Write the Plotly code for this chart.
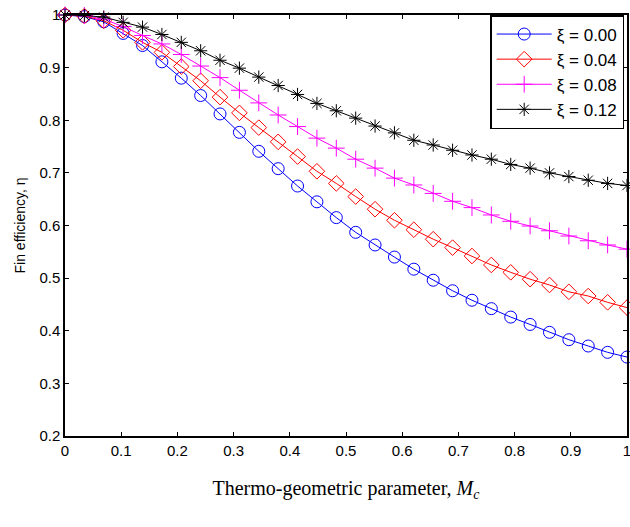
import plotly.graph_objects as go

x_vals = [i / 29 for i in range(30)]  # 30 equally spaced sample points on [0, 1]

eta_000 = [1.000, 0.997, 0.987, 0.965, 0.942, 0.911, 0.880, 0.847, 0.812, 0.777,
           0.741, 0.708, 0.675, 0.645, 0.615, 0.587, 0.563, 0.540, 0.517, 0.496,
           0.476, 0.458, 0.442, 0.426, 0.412, 0.397, 0.383, 0.371, 0.359, 0.350]
eta_004 = [1.000, 0.998, 0.989, 0.971, 0.948, 0.929, 0.902, 0.875, 0.844, 0.814,
           0.786, 0.759, 0.731, 0.703, 0.680, 0.655, 0.631, 0.610, 0.592, 0.574,
           0.558, 0.542, 0.525, 0.511, 0.498, 0.487, 0.474, 0.466, 0.454, 0.444]
eta_008 = [1.000, 0.999, 0.992, 0.978, 0.961, 0.945, 0.925, 0.903, 0.881, 0.857,
           0.833, 0.810, 0.788, 0.766, 0.747, 0.726, 0.709, 0.690, 0.677, 0.661,
           0.646, 0.634, 0.620, 0.608, 0.599, 0.590, 0.580, 0.571, 0.563, 0.555]
eta_012 = [1.000, 0.999, 0.996, 0.986, 0.977, 0.963, 0.948, 0.932, 0.914, 0.899,
           0.882, 0.866, 0.849, 0.832, 0.818, 0.804, 0.789, 0.776, 0.762, 0.753,
           0.743, 0.734, 0.726, 0.716, 0.709, 0.700, 0.693, 0.686, 0.680, 0.676]

series_names = ["ξ = 0.00", "ξ = 0.04", "ξ = 0.08", "ξ = 0.12"]
series_vals = [eta_000, eta_004, eta_008, eta_012]
colors = ["#0000ff", "#ff0000", "#ff00ff", "#000000"]
symbols = ["circle-open", "diamond-open", "cross-thin-open", "asterisk-open"]
sizes = [12, 12, 12, 11]

x_ticks = [0, 0.1, 0.2, 0.3, 0.4, 0.5, 0.6, 0.7, 0.8, 0.9, 1]
x_ticklabels = ["0", "0.1", "0.2", "0.3", "0.4", "0.5", "0.6", "0.7", "0.8", "0.9", "1"]
y_ticks = [0.2, 0.3, 0.4, 0.5, 0.6, 0.7, 0.8, 0.9, 1.0]
y_ticklabels = ["0.2", "0.3", "0.4", "0.5", "0.6", "0.7", "0.8", "0.9", "1"]

fig = go.Figure()
for name, vals, c, s, sz in zip(series_names, series_vals, colors, symbols, sizes):
    fig.add_trace(go.Scatter(
        x=x_vals, y=vals, name=name, mode="lines+markers",
        line=dict(color=c, width=1),
        marker=dict(symbol=s, size=sz, color=c, line=dict(color=c, width=1)),
        cliponaxis=False,
    ))

axis_common = dict(
    showgrid=False, zeroline=False, showline=True, linecolor="black", linewidth=1.5,
    mirror="ticks", ticks="inside", ticklen=4, tickcolor="black", tickwidth=1,
    tickfont=dict(family="Arial, Liberation Sans", size=15, color="black"),
    automargin=False, ticklabeloverflow="allow",
)

fig.update_layout(
    width=630, height=527,
    margin=dict(l=65, r=3, t=15, b=91),
    paper_bgcolor="white", plot_bgcolor="white",
    xaxis=dict(range=[0, 1], tickvals=x_ticks, ticktext=x_ticklabels,
               title=dict(text="Thermo-geometric parameter, <i>M<sub>c</sub></i>",
                          font=dict(family="Times New Roman, Liberation Serif", size=20, color="black"),
                          standoff=23),
               **axis_common),
    yaxis=dict(range=[0.2, 1], tickvals=y_ticks, ticktext=y_ticklabels,
               title=dict(text="Fin efficiency, η",
                          font=dict(family="Arial, Liberation Sans", size=14, color="black"),
                          standoff=10),
               **axis_common),
    legend=dict(x=0.995, y=1.0, xanchor="right", yanchor="top",
                bgcolor="white", bordercolor="black", borderwidth=1.5,
                font=dict(family="Arial, Liberation Sans", size=17, color="black"),
                itemwidth=55, tracegroupgap=0),
    showlegend=True,
)

fig.write_html(
    "out.html",
    config={"displayModeBar": False},
    post_script="document.body.style.margin='0';document.body.style.overflow='hidden';",
)
